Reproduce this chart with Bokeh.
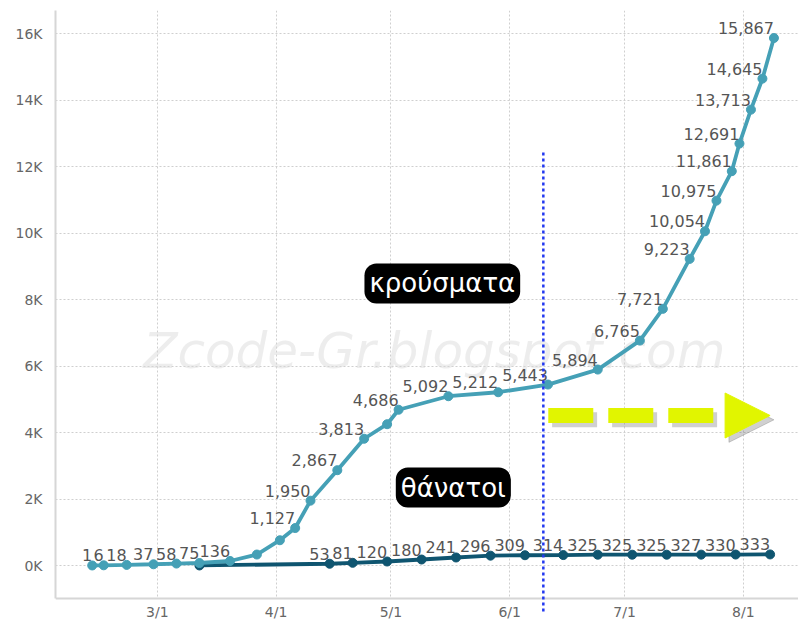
import pandas as pd
from bokeh.plotting import figure
from bokeh.models import (ColumnDataSource, FixedTicker, CustomJSTickFormatter,
                          Label, Arrow, NormalHead, Range1d, Span, BoxAnnotation)
from bokeh.core.properties import value
from bokeh.embed import file_html
from bokeh.resources import INLINE

# ---------------- data ----------------
cases_dates = ["2020-02-13", "2020-02-16", "2020-02-22", "2020-02-29", "2020-03-06",
               "2020-03-12", "2020-03-20", "2020-03-27", "2020-04-02", "2020-04-06",
               "2020-04-10", "2020-04-17", "2020-04-24", "2020-04-30", "2020-05-03",
               "2020-05-16", "2020-05-29", "2020-06-11", "2020-06-24", "2020-07-05",
               "2020-07-11", "2020-07-18", "2020-07-22", "2020-07-25", "2020-07-29",
               "2020-07-31", "2020-08-03", "2020-08-06", "2020-08-09"]
cases_values = [1, 6, 18, 37, 58,
                75, 136, 330, 760, 1127,
                1950, 2867, 3813, 4250, 4686,
                5092, 5212, 5443, 5894, 6765,
                7721, 9223, 10054, 10975, 11861,
                12691, 13713, 14645, 15867]
cases_show = [True, True, True, True, True,
              True, True, False, False, True,
              True, True, True, False, True,
              True, True, True, True, True,
              True, True, True, True, True,
              True, True, True, True]

deaths_dates = ["2020-03-12", "2020-04-15", "2020-04-21", "2020-04-30", "2020-05-09",
                "2020-05-18", "2020-05-27", "2020-06-05", "2020-06-15", "2020-06-24",
                "2020-07-03", "2020-07-12", "2020-07-21", "2020-07-30", "2020-08-08"]
deaths_values = [1, 53, 81, 120, 180,
                 241, 296, 309, 314, 325,
                 325, 325, 327, 330, 333]
deaths_show = [False, True, True, True, True,
               True, True, True, True, True,
               True, True, True, True, True]

x_tick_dates = ["2020-03-01", "2020-04-01", "2020-05-01", "2020-06-01",
                "2020-07-01", "2020-08-01"]
y_ticks = [0, 2000, 4000, 6000, 8000, 10000, 12000, 14000, 16000]

marker_date = "2020-06-09 19:00"
cases_title = "κρούσματα"
deaths_title = "θάνατοι"
watermark = "Zcode-Gr.blogspot.com"


def ms(d):
    return pd.Timestamp(d).value / 1e6


def fmt(v):
    return f"{v:,}"


cases_src = ColumnDataSource(dict(
    x=pd.to_datetime(cases_dates), y=cases_values,
    label=[fmt(v) if s else "" for v, s in zip(cases_values, cases_show)]))
deaths_src = ColumnDataSource(dict(
    x=pd.to_datetime(deaths_dates), y=deaths_values,
    label=[fmt(v) if s else "" for v, s in zip(deaths_values, deaths_show)]))
xt = pd.to_datetime(x_tick_dates)
xtick_src = ColumnDataSource(dict(
    x=xt, label=[f"{d.month}/{d.day}" for d in xt]))

CASES = "#45a0b6"
DEATHS = "#0f5570"
FONT = "DejaVu Sans"
AXIS_Y = -993       # value where the bottom axis line sits
XLABEL_Y = -1400    # value where the date labels sit

p = figure(width=798, height=628, x_axis_type="datetime",
           output_backend="svg", toolbar_location=None,
           x_range=Range1d(ms("2020-02-03 10:00"), ms("2020-08-15 10:00")),
           y_range=Range1d(-1895, 16695),
           min_border_left=55, min_border_right=0,
           min_border_top=10, min_border_bottom=0)
p.outline_line_color = None
p.background_fill_color = "white"

# axes
p.xaxis.visible = False
p.yaxis.ticker = FixedTicker(ticks=y_ticks)
p.yaxis.formatter = CustomJSTickFormatter(code="return (tick/1000).toFixed(0) + 'K';")
p.yaxis.bounds = (AXIS_Y, 16695)
p.yaxis.axis_line_color = "#d6d6d6"
p.yaxis.axis_line_width = 2
p.yaxis.major_tick_line_color = None
p.yaxis.minor_tick_line_color = None
p.yaxis.major_label_text_font = FONT
p.yaxis.major_label_text_font_size = "14px"
p.yaxis.major_label_text_color = "#666666"
p.yaxis.major_label_standoff = 7

p.xgrid.ticker = FixedTicker(ticks=[ms(d) for d in x_tick_dates])
for g in (p.xgrid, p.ygrid):
    g.grid_line_color = "#cfcfcf"
    g.grid_line_dash = "2 2"
    g.grid_line_width = 1

# area below the bottom axis: hide the grid there, draw axis line and date labels
p.add_layout(BoxAnnotation(top=AXIS_Y, fill_color="white", fill_alpha=1.0,
                           line_color=None, level="glyph"))
p.add_layout(Span(location=AXIS_Y, dimension="width", line_color="#d6d6d6",
                  line_width=2))
p.text("x", XLABEL_Y, text="label", source=xtick_src, text_align="center",
       text_baseline="middle", text_font=value(FONT), text_font_size="14px",
       text_color="#666666", level="annotation")

# watermark
p.add_layout(Label(x=ms("2020-05-12 08:00"), y=6467, text=watermark,
                   text_align="center", text_baseline="middle",
                   text_font=FONT, text_font_style="italic", text_font_size="50px",
                   text_color="#d8d8d8", text_alpha=0.45, level="underlay"))

# lines
p.line("x", "y", source=deaths_src, line_color=DEATHS, line_width=3.8)
p.scatter("x", "y", source=deaths_src, size=9, fill_color=DEATHS, line_color=DEATHS)
p.line("x", "y", source=cases_src, line_color=CASES, line_width=3.8)
p.scatter("x", "y", source=cases_src, size=9, fill_color=CASES, line_color=CASES)

for src in (cases_src, deaths_src):
    p.text("x", "y", text="label", source=src, text_align="right",
           text_baseline="alphabetic", y_offset=-10,
           text_font=value(FONT), text_font_size="16px", text_color="#555555")

# blue dotted marker line
p.add_layout(Arrow(start=None, end=None,
                   x_start=ms(marker_date), y_start=12420,
                   x_end=ms(marker_date), y_end=-1420,
                   line_color="#2238f0", line_width=2.5, line_dash="3 3"))

# yellow dashed arrow with shadow
for dx, dy, col, alpha in ((ms("2020-06-12") - ms("2020-06-11"), -130, "#777777", 0.35),
                           (0, 0, "#e1f500", 1.0)):
    p.add_layout(Arrow(
        end=NormalHead(size=45, fill_color=col, line_color=col,
                       fill_alpha=alpha, line_alpha=alpha),
        x_start=ms("2020-06-11 02:00") + dx, y_start=4512 + dy,
        x_end=ms("2020-08-08") + dx, y_end=4512 + dy,
        line_color=col, line_alpha=alpha, line_width=15, line_dash="45 15"))

# series titles
for txt, xd, yv in ((cases_title, "2020-05-14 10:00", 8483),
                    (deaths_title, "2020-05-17 07:00", 2346)):
    p.add_layout(Label(x=ms(xd), y=yv, text=txt, text_align="center",
                       text_baseline="middle", text_font=FONT, text_font_size="26px",
                       text_color="white", background_fill_color="black",
                       border_radius=12, padding=5))

open("out.html", "w").write(file_html(p, INLINE))
